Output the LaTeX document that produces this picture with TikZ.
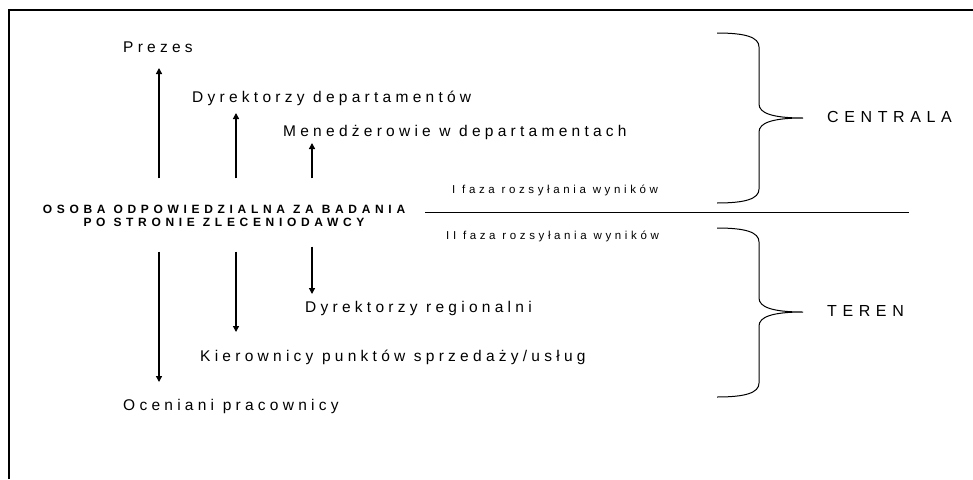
\documentclass[tikz,border=0pt]{standalone}
\usepackage{fontspec}
\setmainfont{Liberation Sans}
\newfontfamily\lblfont[LetterSpace=27.5]{Liberation Sans}
\newfontfamily\smallfont[LetterSpace=31.5]{Liberation Sans}
\newfontfamily\boldlbl[LetterSpace=39]{Liberation Sans Bold}
\newfontfamily\bigfont[LetterSpace=35]{Liberation Sans}
\usetikzlibrary{arrows.meta}
\begin{document}
\begin{tikzpicture}[x=1pt,y=-1pt,
  lbl/.style={anchor=base west,inner sep=0pt,font=\lblfont\fontsize{15.5}{17}\selectfont},
  small/.style={anchor=base west,inner sep=0pt,font=\smallfont\fontsize{11.5}{13}\selectfont},
  bold/.style={anchor=base,inner sep=0pt,font=\boldlbl\fontsize{12}{13}\selectfont},
  big/.style={anchor=base west,inner sep=0pt,font=\bigfont\fontsize{16}{18}\selectfont},
  arr/.style={line width=1.3pt,-{Triangle[width=6pt,length=6pt]}},
  brace/.style={line width=1pt}]
\useasboundingbox (0,0) rectangle (973,479);
\fill[white] (0,0) rectangle (973,479);
% frame
\draw[line width=2pt] (9,479) -- (9,10) -- (973,10);
% labels
\node[lbl] (prezes) at (123,52.7) {Prezes};
\node[lbl] (dyrdep) at (192,102.3) {Dyrektorzy departamentów};
\node[lbl] (men) at (283,136.7) {Menedżerowie w departamentach};
\node[small] (faza1) at (452,193.3) {I faza rozsyłania wyników};
\node[small] (faza2) at (446,239) {II faza rozsyłania wyników};
\node[bold] (osoba) at (224,213.3) {OSOBA ODPOWIEDZIALNA ZA BADANIA};
\node[bold] (osoba2) at (224,226.7) {PO STRONIE ZLECENIODAWCY};
\node[lbl] (dyrreg) at (305,312.3) {Dyrektorzy regionalni};
\node[lbl] (kier) at (200,361.7) {Kierownicy punktów sprzedaży/usług};
\node[lbl] (ocen) at (123,410.7) {Oceniani pracownicy};
\node[big] (centrala) at (827,122.7) {CENTRALA};
\node[big] (teren) at (827,316) {TEREN};
% arrow end points
\coordinate (u1s) at (159,178.3); \coordinate (u1e) at (159,68);
\coordinate (u2s) at (236,178.3); \coordinate (u2e) at (236,113);
\coordinate (u3s) at (312,178.3); \coordinate (u3e) at (312,143);
\coordinate (d1s) at (159,251.7); \coordinate (d1e) at (159,382);
\coordinate (d2s) at (236,251.7); \coordinate (d2e) at (236,332);
\coordinate (d3s) at (312,246.7); \coordinate (d3e) at (312,294);
\draw[arr] (u1s) -- (u1e);
\draw[arr] (u2s) -- (u2e);
\draw[arr] (u3s) -- (u3e);
\draw[arr] (d1s) -- (d1e);
\draw[arr] (d2s) -- (d2e);
\draw[arr] (d3s) -- (d3e);
% divider
\coordinate (divL) at (425,212); \coordinate (divR) at (909,212);
\draw[line width=1pt] (divL) -- (divR);
% braces
\coordinate (b1t) at (717,33);
\coordinate (b1m) at (803,118);
\coordinate (b1b) at (717,203);
\draw[brace] (b1t) .. controls (745,33) and (759,37) .. (759,47) -- (759,104)
  .. controls (759,113) and (772,118) .. (b1m)
  .. controls (772,118) and (759,123) .. (759,132) -- (759,189)
  .. controls (759,199) and (745,203) .. (b1b);
\coordinate (b2t) at (717,228);
\coordinate (b2m) at (803,312);
\coordinate (b2b) at (717,397);
\draw[brace] (b2t) .. controls (745,228) and (759,232) .. (759,242) -- (759,298)
  .. controls (759,307) and (772,312) .. (b2m)
  .. controls (772,312) and (759,317) .. (759,326) -- (759,383)
  .. controls (759,393) and (745,397) .. (b2b);
\end{tikzpicture}
\end{document}
